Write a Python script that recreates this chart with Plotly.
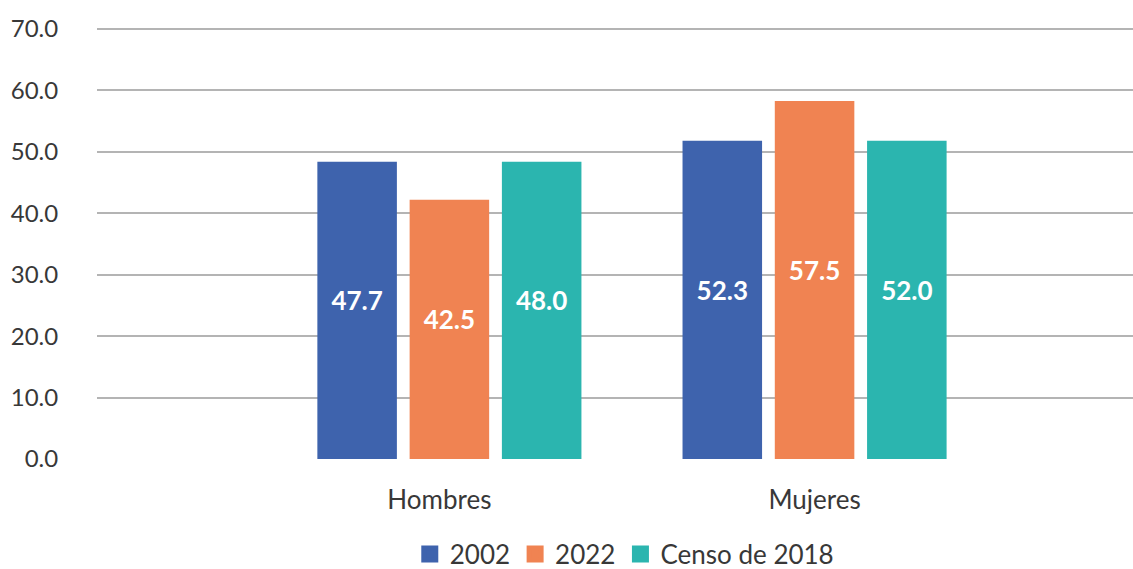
import plotly.graph_objects as go

categories = ["Hombres", "Mujeres"]
category_text = ["Hombres\u00a0\u00a0\u00a0", "Mujeres"]
series_names = ["2002", "2022", "Censo de 2018"]
# bar heights as drawn in the picture
heights_2002 = [48.4, 51.8]
heights_2022 = [42.2, 58.3]
heights_censo = [48.4, 51.8]
# data labels printed on the bars
labels_2002 = ["47.7", "52.3"]
labels_2022 = ["42.5", "57.5"]
labels_censo = ["48.0", "52.0"]
y_ticks = [0, 10, 20, 30, 40, 50, 60, 70]
y_tick_text = ["0.0", "10.0", "20.0", "30.0", "40.0", "50.0", "60.0", "70.0"]

colors = ["#3E63AD", "#F08352", "#2BB5AF"]
FONT = "Lato"
TEXT_COLOR = "#383838"


def label_markup(t):
    # 26px label, with a small blank second line so the label sits a bit above the bar middle
    return "<span style='font-size:26px'>" + t + "</span><br>&nbsp;"


fig = go.Figure()
for name, h, lab, col in zip(series_names,
                             [heights_2002, heights_2022, heights_censo],
                             [labels_2002, labels_2022, labels_censo],
                             colors):
    fig.add_trace(go.Bar(
        x=categories, y=h, name=name,
        text=[label_markup(t) for t in lab],
        marker=dict(color=col, line=dict(width=0)),
        textposition="inside", insidetextanchor="middle",
        textfont=dict(family=FONT, size=17, color="white", weight="bold"),
        textangle=0, showlegend=False, hoverinfo="skip",
    ))
    # legend-only proxy on a hidden axis
    fig.add_trace(go.Bar(
        x=[None], y=[None], name=name, xaxis="x2", yaxis="y2",
        marker=dict(color=col, line=dict(color=col, width=5)),
        showlegend=True,
    ))

fig.update_layout(
    width=1133, height=569,
    margin=dict(l=97, r=0, t=26, b=110, autoexpand=False),
    paper_bgcolor="white", plot_bgcolor="white",
    barmode="group", bargap=0.242, bargroupgap=0.138,
    font=dict(family=FONT, size=24, color=TEXT_COLOR),
    uniformtext=dict(minsize=10, mode="show"),
    xaxis=dict(type="category", range=[-0.965, 1.872], showgrid=False,
               tickvals=categories, ticktext=category_text,
               showline=False, zeroline=False, ticks="outside", automargin=False,
               tickcolor="rgba(0,0,0,0)", ticklen=18,
               tickfont=dict(family=FONT, size=26, color=TEXT_COLOR)),
    yaxis=dict(range=[0, 70.5], tickvals=y_ticks, ticktext=y_tick_text,
               showgrid=True, gridcolor="#B4B4B4", gridwidth=2, automargin=False,
               zeroline=False, showline=False, ticks="outside",
               tickcolor="rgba(0,0,0,0)", ticklen=33,
               tickfont=dict(family=FONT, size=24, color=TEXT_COLOR)),
    xaxis2=dict(overlaying="x", visible=False, range=[0, 1]),
    yaxis2=dict(overlaying="y", visible=False, range=[0, 1]),
    legend=dict(orientation="h", x=0.551, xref="container", xanchor="center",
                y=0.026, yref="container", yanchor="middle",
                font=dict(family=FONT, size=26, color=TEXT_COLOR),
                itemwidth=30, tracegroupgap=0, bgcolor="rgba(0,0,0,0)"),
)

fig.write_html("out.html",
               config={"displayModeBar": False},
               post_script="document.body.style.margin='0';document.body.style.padding='0';")
